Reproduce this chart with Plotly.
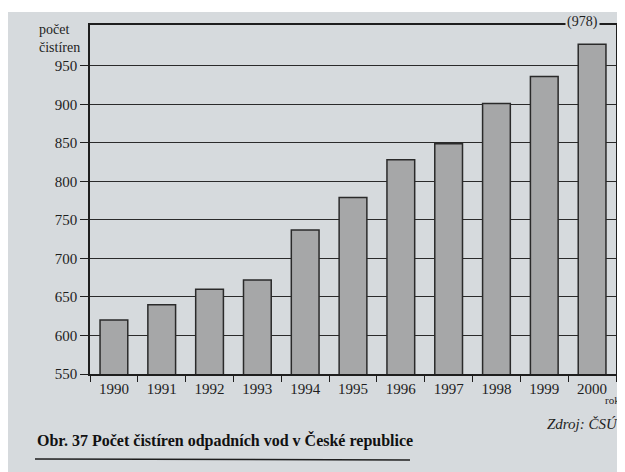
import plotly.graph_objects as go

years = ["1990", "1991", "1992", "1993", "1994", "1995", "1996", "1997", "1998", "1999", "2000"]
counts = [620, 640, 660, 672, 737, 779, 828, 849, 901, 936, 978]
y_ticks = [550, 600, 650, 700, 750, 800, 850, 900, 950]

OFF = 8  # page body margin offset
W, H = 625, 472
# target pixel positions in the screenshot
PL, PR, PT, PB = 90, 608, 25, 374
ML, MT = PL - OFF, PT - OFF
MR, MB = W - PR, H - PB + OFF
PW, PH = W - ML - MR, H - MT - MB

def px_x(x):
    return (x - OFF - ML) / PW

def px_y(y):
    return 1 - (y - OFF - MT) / PH

SERIF = "Liberation Serif"
BG = "#d6dadd"

fig = go.Figure()
fig.add_trace(go.Bar(
    x=years, y=counts,
    marker=dict(color="#a6a7a8", line=dict(color="#2a2a2a", width=1.5)),
    width=0.58,
    hoverinfo="x+y",
))

fig.update_layout(
    width=W, height=H,
    margin=dict(l=ML, r=MR, t=MT, b=MB, autoexpand=False),
    paper_bgcolor=BG,
    plot_bgcolor=BG,
    showlegend=False,
    font=dict(family=SERIF, color="#1e1e1e", size=15),
    xaxis=dict(
        type="category",
        showgrid=False,
        showline=True, linecolor="#1e1e1e", linewidth=1.5, mirror=True,
        ticks="outside", tickson="boundaries", ticklen=6, tickcolor="#1e1e1e",
        tickfont=dict(family=SERIF, size=15, color="#1e1e1e"),
        automargin=False,
    ),
    yaxis=dict(
        range=[550, 1003],
        tickvals=y_ticks,
        showgrid=True, gridcolor="#2a2a2a", gridwidth=1,
        showline=True, linecolor="#1e1e1e", linewidth=1.5, mirror=True,
        ticks="outside", ticklen=8, tickcolor="#1e1e1e",
        tickfont=dict(family=SERIF, size=15, color="#1e1e1e"),
        zeroline=False,
        automargin=False,
    ),
    shapes=[
        # white page edge strip at the top
        dict(type="rect", xref="paper", yref="paper", x0=px_x(0), x1=px_x(W + 20), y0=px_y(12), y1=px_y(0),
             fillcolor="white", line=dict(width=0), layer="below"),
        # underline below caption
        dict(type="line", xref="paper", yref="paper", x0=px_x(35), x1=px_x(410), y0=px_y(459), y1=px_y(460),
             line=dict(color="#1e1e1e", width=1.5)),
    ],
    annotations=[
        dict(text="počet<br>čistíren", xref="paper", yref="paper", x=px_x(37), y=px_y(38),
             xanchor="left", yanchor="middle", showarrow=False, align="left",
             font=dict(family=SERIF, size=14, color="#1e1e1e")),
        dict(text="(978)", xref="paper", yref="paper", x=px_x(582), y=px_y(22),
             xanchor="center", yanchor="middle", showarrow=False, bgcolor=BG,
             font=dict(family=SERIF, size=14, color="#1e1e1e")),
        dict(text="rok", xref="paper", yref="paper", x=px_x(622), y=px_y(400),
             xanchor="right", yanchor="middle", showarrow=False,
             font=dict(family=SERIF, size=11, color="#1e1e1e")),
        dict(text="<i>Zdroj: ČSÚ</i>", xref="paper", yref="paper", x=px_x(620), y=px_y(424),
             xanchor="right", yanchor="middle", showarrow=False,
             font=dict(family=SERIF, size=15, color="#1e1e1e")),
        dict(text="<b>Obr. 37 Počet čistíren odpadních vod v České republice</b>", xref="paper", yref="paper",
             x=px_x(35), y=px_y(440), xanchor="left", yanchor="middle", showarrow=False,
             font=dict(family=SERIF, size=16, color="#111111")),
    ],
)

fig.write_html("out.html")
